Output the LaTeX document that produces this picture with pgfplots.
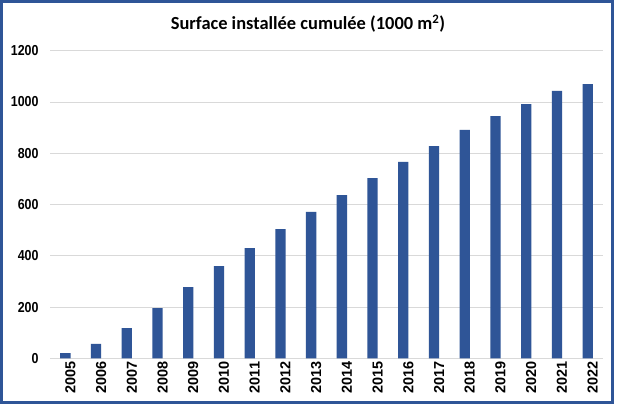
\documentclass[border=0pt]{standalone}
\usepackage{pgfplots}
\pgfplotsset{compat=1.18}
\usepackage{fontspec}
\setmainfont{Carlito}
\newfontfamily\tickfont{Liberation Sans}
\newfontfamily\ytickfont[FakeStretch=0.86]{Liberation Sans}
\definecolor{barblue}{HTML}{2F5597}
\definecolor{gridgray}{HTML}{D9D9D9}
\begin{document}
\begin{tikzpicture}[x=1bp,y=1bp]
\useasboundingbox (0,0) rectangle (618,406);
\fill[white] (0,0) rectangle (618,406);
\draw[barblue, line width=2.6bp] (1.3,3.3) rectangle (612.3,404.7);
\node[font=\bfseries\fontsize{18.5}{22}\selectfont] at (308,382) {Surface installée cumulée (1000 m\textsuperscript{2})};
\begin{axis}[
  at={(50bp,47.7bp)}, anchor=south west,
  scale only axis, width=553bp, height=307.6bp,
  xmin=-0.5, xmax=17.5, ymin=0, ymax=1200,
  ytick={0,200,...,1200},
  xtick={0,...,17},
  xticklabels={2005,2006,2007,2008,2009,2010,2011,2012,2013,2014,2015,2016,2017,2018,2019,2020,2021,2022},
  axis y line=left, axis x line=bottom,
  y axis line style={draw=none},
  x axis line style={gridgray, line width=0.8bp, -},
  ymajorgrids, grid style={gridgray, line width=0.8bp},
  major tick length=0pt,
  yticklabel style={font=\ytickfont\bfseries\fontsize{14.5}{15}\selectfont, anchor=east, xshift=-8bp},
  xticklabel style={font=\tickfont\bfseries\fontsize{14.5}{15}\selectfont, rotate=90, anchor=east, yshift=-5bp},
  /pgf/number format/assume math mode=true,
  /pgf/number format/1000 sep={},
  ybar, bar width=10.3bp,
  clip=false,
]
\addplot[fill=barblue, draw=none] coordinates {
(0,20) (1,56) (2,118) (3,196) (4,278) (5,360) (6,430) (7,504) (8,571)
(9,637) (10,703) (11,766) (12,828) (13,891) (14,945) (15,992) (16,1043) (17,1070)
};
\end{axis}
\end{tikzpicture}
\end{document}
